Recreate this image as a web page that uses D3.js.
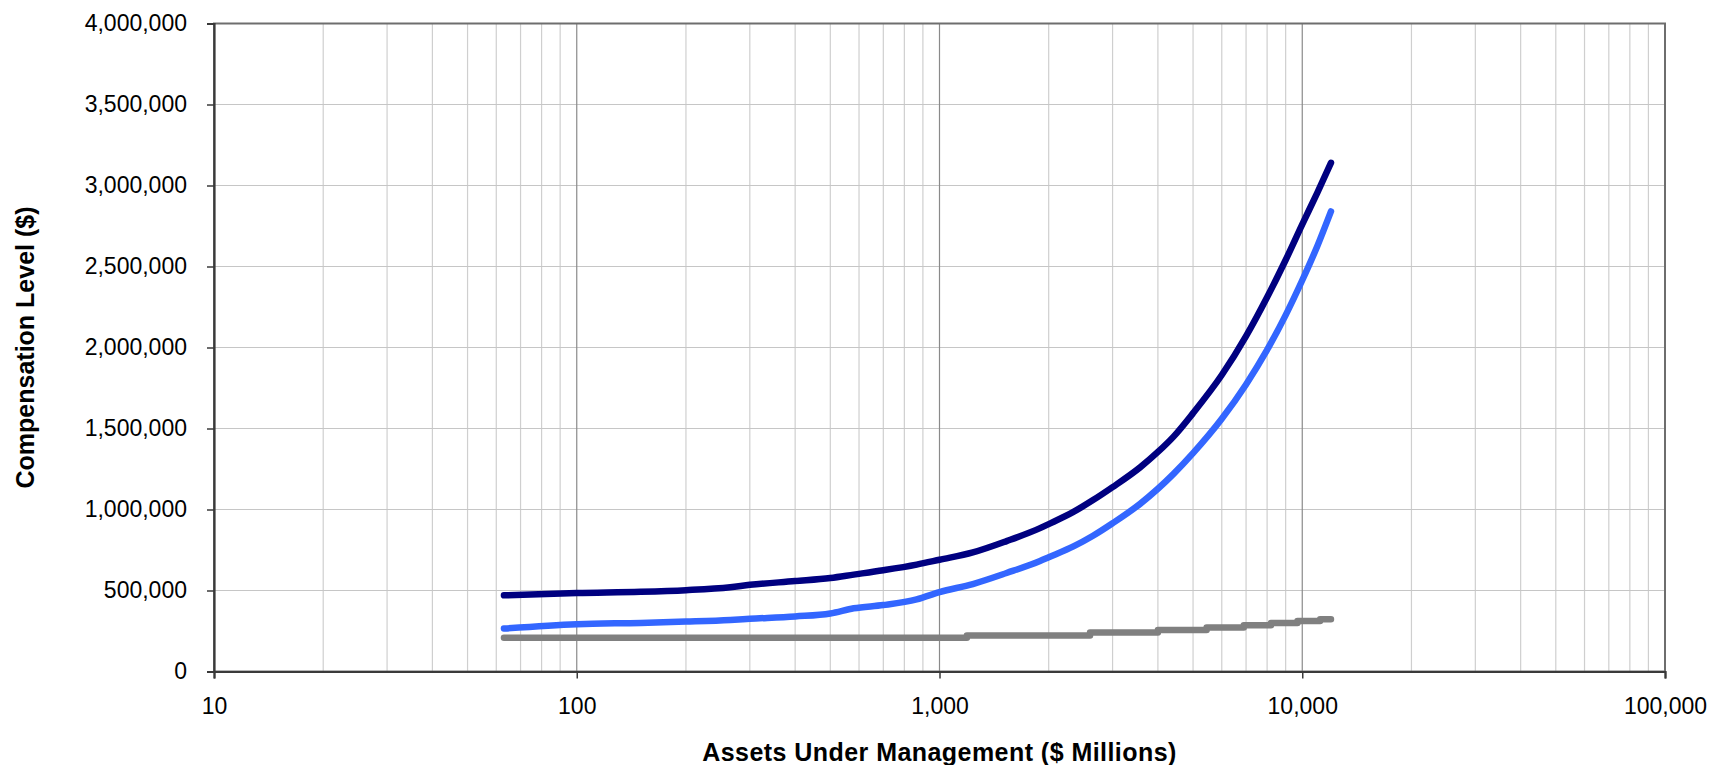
<!DOCTYPE html>
<html>
<head>
<meta charset="utf-8">
<script src="https://cdn.jsdelivr.net/npm/d3@7"></script>
<style>
  html, body { margin: 0; padding: 0; background: #fff; }
  svg { display: block; font-family: "Liberation Sans", Arial, sans-serif; }
</style>
</head>
<body>
<div id="chart"></div>
<script>
// assets under management ($ millions) shared by the two upper curves
const aum = [63, 100, 150, 200, 265, 300, 400, 500, 580, 700, 865, 1000, 1236, 1531, 1893, 2000,
  2340, 2650, 3000, 3573, 4000, 4418, 5000, 6000, 7000, 8000, 9000, 10000, 11000, 12000];

const compUpper = [470000, 485000, 492000, 502000, 520000, 535000, 558000, 577000, 598000, 625000,
  660000, 690000, 735000, 805000, 885000, 910000, 985000, 1058000, 1138000, 1260000, 1355000,
  1450000, 1595000, 1830000, 2070000, 2310000, 2540000, 2760000, 2955000, 3140000];

const compMiddle = [265000, 292000, 300000, 308000, 318000, 325000, 340000, 358000, 390000, 410000,
  445000, 490000, 540000, 608000, 682000, 705000, 772000, 838000, 915000, 1035000, 1128000,
  1220000, 1348000, 1560000, 1772000, 1985000, 2200000, 2415000, 2625000, 2840000];

// lower curve is a step series
const aumBase = [63, 1190, 2600, 4000, 5450, 6900, 8200, 9700, 11200, 12000];
const compBase = [208000, 222000, 240000, 256000, 271000, 285000, 300000, 312000, 323000, 323000];

const xTicks = [10, 100, 1000, 10000, 100000];
const yTicks = [0, 500000, 1000000, 1500000, 2000000, 2500000, 3000000, 3500000, 4000000];

let width = 1710, height = 765;
let margin = { top: 23.5, right: 45, bottom: 93.5, left: 214 };
let w = width - margin.left - margin.right;
let h = height - margin.top - margin.bottom;

let svg = d3.select("#chart")
  .append("svg")
  .attr("width", width)
  .attr("height", height);

let x = d3.scaleLog().domain([10, 100000]).range([0, w]);
let y = d3.scaleLinear().domain([0, 4000000]).range([h, 0]);

let g = svg.append("g")
  .attr("transform", `translate(${margin.left},${margin.top})`);

// minor vertical gridlines
let minor = [];
for (let d = 10; d < 100000; d *= 10) {
  for (let k = 2; k <= 9; k++) minor.push(d * k);
}

g.append("g").selectAll("line")
  .data(minor)
  .join("line")
  .attr("x1", d => x(d)).attr("x2", d => x(d))
  .attr("y1", 0).attr("y2", h)
  .attr("stroke", "#cfcfcf")
  .attr("stroke-width", 1.2);

g.append("g").selectAll("line")
  .data(yTicks.slice(1, -1))
  .join("line")
  .attr("x1", 0).attr("x2", w)
  .attr("y1", d => y(d)).attr("y2", d => y(d))
  .attr("stroke", "#c6c6c6")
  .attr("stroke-width", 1.2);

g.append("g").selectAll("line")
  .data(xTicks.slice(1, -1))
  .join("line")
  .attr("x1", d => x(d)).attr("x2", d => x(d))
  .attr("y1", 0).attr("y2", h)
  .attr("stroke", "#8a8a8a")
  .attr("stroke-width", 1.2);

// plot border
g.append("rect")
  .attr("x", 0).attr("y", 0)
  .attr("width", w).attr("height", h)
  .attr("fill", "none")
  .attr("stroke", "#6e6e6e")
  .attr("stroke-width", 2);

// axes
let xAxis = g.append("g")
  .attr("transform", `translate(0,${h})`)
  .call(d3.axisBottom(x).tickValues(xTicks).tickFormat(d3.format(",")).tickSize(7).tickPadding(19));

let yAxis = g.append("g")
  .call(d3.axisLeft(y).tickValues(yTicks).tickFormat(d3.format(",")).tickSize(7).tickPadding(20));

[xAxis, yAxis].forEach(a => {
  a.select(".domain").attr("stroke", "#3a3a3a").attr("stroke-width", 2.2);
  a.selectAll(".tick line").attr("stroke", "#3a3a3a").attr("stroke-width", 1.5);
  a.selectAll("text")
    .attr("fill", "#000")
    .attr("font-size", 23)
    .attr("font-family", "'Liberation Sans', Arial, sans-serif");
});

// lines
let line = d3.line()
  .x(d => x(d[0]))
  .y(d => y(d[1]));

let series = [
  { pts: d3.zip(aumBase, compBase), color: "#808080", curve: d3.curveStepAfter },
  { pts: d3.zip(aum, compMiddle), color: "#3366ff", curve: d3.curveMonotoneX },
  { pts: d3.zip(aum, compUpper), color: "#000080", curve: d3.curveMonotoneX }
];

series.forEach(s => {
  g.append("path")
    .datum(s.pts)
    .attr("d", line.curve(s.curve))
    .attr("fill", "none")
    .attr("stroke", s.color)
    .attr("stroke-width", 6.5)
    .attr("stroke-linecap", "round")
    .attr("stroke-linejoin", "round");
});

// axis titles
svg.append("text")
  .attr("x", margin.left + w / 2)
  .attr("y", 761)
  .attr("text-anchor", "middle")
  .attr("font-size", 25)
  .attr("font-weight", "bold")
  .attr("letter-spacing", 0.45)
  .attr("fill", "#000")
  .text("Assets Under Management ($ Millions)");

svg.append("text")
  .attr("transform", `translate(34,${margin.top + h / 2}) rotate(-90)`)
  .attr("text-anchor", "middle")
  .attr("font-size", 25)
  .attr("font-weight", "bold")
  .attr("fill", "#000")
  .text("Compensation Level ($)");
</script>
</body>
</html>
